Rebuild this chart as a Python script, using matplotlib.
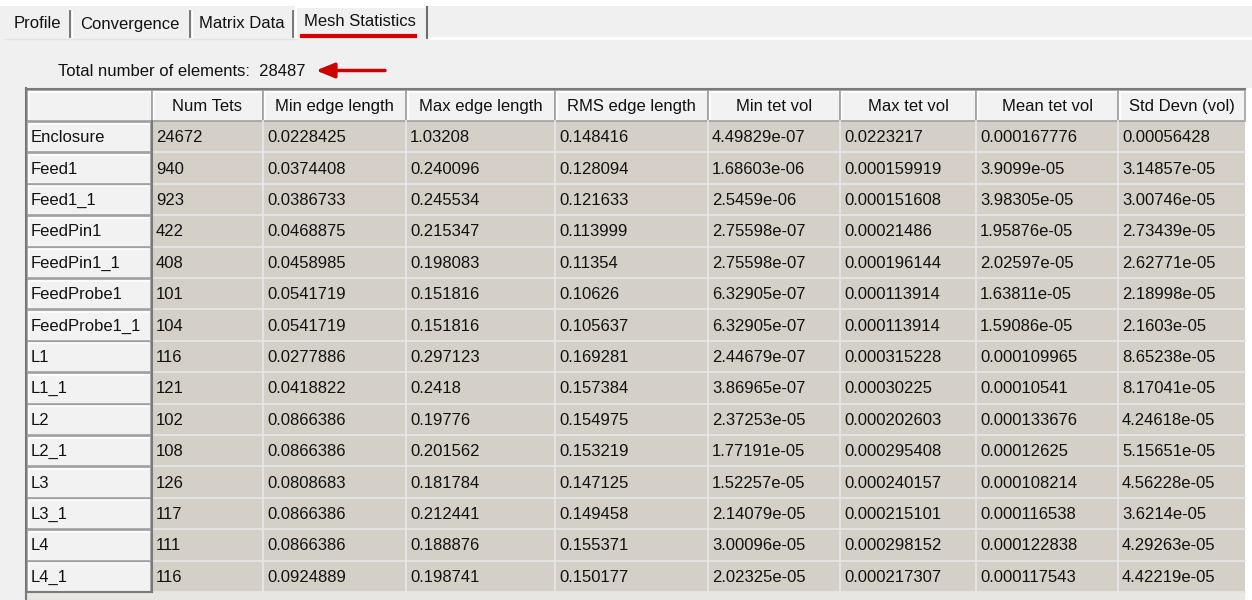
import matplotlib.pyplot as plt
from matplotlib.patches import Rectangle

plt.rcParams['font.family'] = ['Liberation Sans', 'DejaVu Sans']

# data
tabs = ['Profile', 'Convergence', 'Matrix Data', 'Mesh Statistics']
total_elements = 28487
columns = ['Num Tets', 'Min edge length', 'Max edge length', 'RMS edge length',
           'Min tet vol', 'Max tet vol', 'Mean tet vol', 'Std Devn (vol)']
row_names = ['Enclosure', 'Feed1', 'Feed1_1', 'FeedPin1', 'FeedPin1_1', 'FeedProbe1',
             'FeedProbe1_1', 'L1', 'L1_1', 'L2', 'L2_1', 'L3', 'L3_1', 'L4', 'L4_1']
num_tets = [24672, 940, 923, 422, 408, 101, 104, 116, 121, 102, 108, 126, 117, 111, 116]
min_edge = [0.0228425, 0.0374408, 0.0386733, 0.0468875, 0.0458985, 0.0541719, 0.0541719,
            0.0277886, 0.0418822, 0.0866386, 0.0866386, 0.0808683, 0.0866386, 0.0866386,
            0.0924889]
max_edge = [1.03208, 0.240096, 0.245534, 0.215347, 0.198083, 0.151816, 0.151816,
            0.297123, 0.2418, 0.19776, 0.201562, 0.181784, 0.212441, 0.188876, 0.198741]
rms_edge = [0.148416, 0.128094, 0.121633, 0.113999, 0.11354, 0.10626, 0.105637,
            0.169281, 0.157384, 0.154975, 0.153219, 0.147125, 0.149458, 0.155371, 0.150177]
min_vol = [4.49829e-07, 1.68603e-06, 2.5459e-06, 2.75598e-07, 2.75598e-07, 6.32905e-07,
           6.32905e-07, 2.44679e-07, 3.86965e-07, 2.37253e-05, 1.77191e-05, 1.52257e-05,
           2.14079e-05, 3.00096e-05, 2.02325e-05]
max_vol = [0.0223217, 0.000159919, 0.000151608, 0.00021486, 0.000196144, 0.000113914,
           0.000113914, 0.000315228, 0.00030225, 0.000202603, 0.000295408, 0.000240157,
           0.000215101, 0.000298152, 0.000217307]
mean_vol = [0.000167776, 3.9099e-05, 3.98305e-05, 1.95876e-05, 2.02597e-05, 1.63811e-05,
            1.59086e-05, 0.000109965, 0.00010541, 0.000133676, 0.00012625, 0.000108214,
            0.000116538, 0.000122838, 0.000117543]
std_vol = [0.00056428, 3.14857e-05, 3.00746e-05, 2.73439e-05, 2.62771e-05, 2.18998e-05,
           2.1603e-05, 8.65238e-05, 8.17041e-05, 4.24618e-05, 5.15651e-05, 4.56228e-05,
           3.6214e-05, 4.29263e-05, 4.42219e-05]
series = [num_tets, min_edge, max_edge, rms_edge, min_vol, max_vol, mean_vol, std_vol]

# layout (pixels)
W, H = 1252, 600
col_edges = [27, 152, 263, 406, 555, 708, 840, 976, 1118, 1245]
head_top, head_bot = 90, 121
row_h = 31.4
fs = 12

fig = plt.figure(figsize=(W / 100, H / 100), dpi=100, facecolor='#f0f0f0')
ax = fig.add_axes([0, 0, 1, 1])
ax.set_xlim(0, W)
ax.set_ylim(H, 0)
ax.axis('off')

# top white strip and tab bar
ax.add_patch(Rectangle((0, 0), W, 6, facecolor='white', edgecolor='none'))
ax.plot([427, W], [38, 38], color='white', lw=2)
ax.plot([5, 296], [38.5, 38.5], color='#e3e3e3', lw=1)
tab_cx = [37, 130, 242, 360]
tab_seps = [70, 190, 293]
for x in tab_seps:
    ax.plot([x, x], [11, 37], color='#6e6e6e', lw=1.3)
    ax.plot([x + 1.5, x + 1.5], [11, 37], color='white', lw=1)
ax.plot([296, 296], [7, 38], color='white', lw=1.5)
ax.plot([296, 427], [7, 7], color='white', lw=1.5)
ax.plot([427, 427], [7, 38], color='#6e6e6e', lw=1.5)
for i, (t, cx) in enumerate(zip(tabs, tab_cx)):
    ax.text(cx, 22 if i == 3 else 24, t, fontsize=fs, ha='center', va='center',
            color='#111111')
ax.plot([300, 417], [36, 36], color='#d40000', lw=3, solid_capstyle='butt')

# total elements + arrow
ax.text(58, 71, f'Total number of elements:  {total_elements}', fontsize=fs,
        ha='left', va='center', color='#111111')
ax.annotate('', xy=(316, 70.5), xytext=(385, 70.5),
            arrowprops=dict(arrowstyle='-|>,head_length=1.1,head_width=0.45',
                            color='#cc0000', lw=2.5, shrinkA=0, shrinkB=0))

# table background
n = len(row_names)
tab_bot = head_bot + n * row_h
ax.add_patch(Rectangle((col_edges[0], head_bot), col_edges[-1] - col_edges[0],
                       H - head_bot, facecolor='#e8e6e2', edgecolor='none'))
ax.add_patch(Rectangle((col_edges[1], head_bot), col_edges[-1] - col_edges[1],
                       tab_bot - head_bot, facecolor='#d4d0c8', edgecolor='none'))
ax.add_patch(Rectangle((col_edges[-1], 88), W - col_edges[-1], H, facecolor='white',
                       edgecolor='none'))


def raised_cell(x0, y0, x1, y1):
    ax.add_patch(Rectangle((x0, y0), x1 - x0, y1 - y0, facecolor='#f2f2f2',
                           edgecolor='#a0a0a0', lw=1.2))
    ax.plot([x0 + 1.5, x1 - 2], [y0 + 1.5, y0 + 1.5], color='white', lw=1.2)
    ax.plot([x0 + 1.5, x0 + 1.5], [y0 + 1.5, y1 - 2], color='white', lw=1.2)


# header row
raised_cell(col_edges[0], head_top, col_edges[1], head_bot)
for j, name in enumerate(columns):
    x0, x1 = col_edges[j + 1], col_edges[j + 2]
    raised_cell(x0, head_top, x1, head_bot)
    ax.text((x0 + x1) / 2, (head_top + head_bot) / 2 + 1, name, fontsize=fs,
            ha='center', va='center', color='#111111')

# rows
for i, rname in enumerate(row_names):
    y0 = head_bot + i * row_h
    y1 = y0 + row_h
    yc = (y0 + y1) / 2 + 1
    raised_cell(col_edges[0], y0 + 1, col_edges[1] - 1, y1)
    ax.text(col_edges[0] + 4, yc, rname, fontsize=fs, ha='left', va='center',
            color='#111111')
    ax.plot([col_edges[1], col_edges[-1]], [y1, y1], color='#e6e6e6', lw=1.3)
    for j, vals in enumerate(series):
        ax.text(col_edges[j + 1] + 4, yc, f'{vals[i]:g}', fontsize=fs, ha='left',
                va='center', color='#111111')

for x in col_edges[2:-1]:
    ax.plot([x, x], [head_bot, tab_bot], color='#e6e6e6', lw=1.3)
ax.plot([col_edges[1], col_edges[1]], [head_bot, tab_bot], color='#7a7a7a', lw=1.5)

# outer frame
ax.plot([col_edges[0] - 1, col_edges[0] - 1], [88, H], color='#7a7a7a', lw=1.5)
ax.plot([col_edges[0] - 1, col_edges[-1]], [88.5, 88.5], color='#7a7a7a', lw=1.5)
ax.plot([col_edges[0] - 1, col_edges[1]], [tab_bot, tab_bot], color='#7a7a7a', lw=1.5)

fig.savefig('out.png', dpi=100, facecolor=fig.get_facecolor())
